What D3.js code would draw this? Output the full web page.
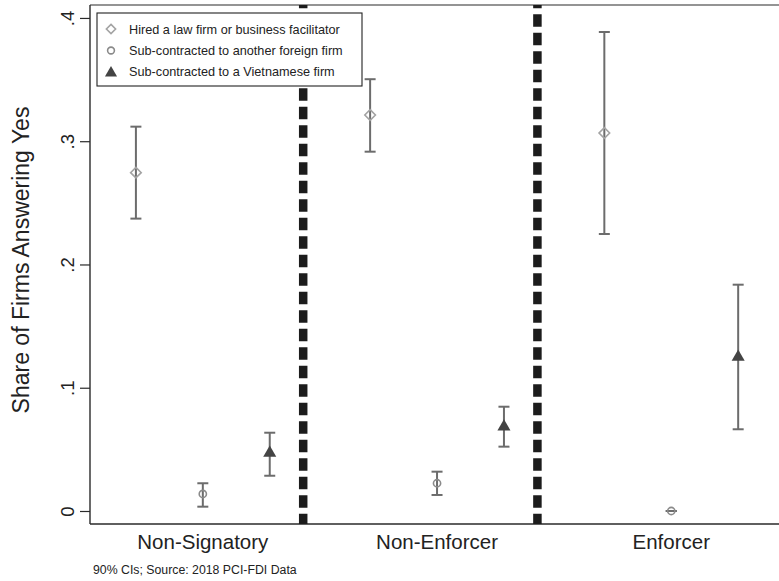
<!DOCTYPE html>
<html><head><meta charset="utf-8">
<script src="https://cdn.jsdelivr.net/npm/d3@7"></script>
<style>body{margin:0;background:#fff}svg{display:block}text{font-family:"Liberation Sans",Arial,sans-serif}</style>
</head><body>
<script>
const groups = ["Non-Signatory","Non-Enforcer","Enforcer"];
const groupPos = [2, 5.5, 9];
const dividers = [3.5, 7];
const seriesNames = ["Hired a law firm or business facilitator","Sub-contracted to another foreign firm","Sub-contracted to a Vietnamese firm"];
const seriesOffsets = [-1, 0, 1];
const lawMean = [0.2745, 0.3213, 0.3067];
const lawLo   = [0.2372, 0.2915, 0.2247];
const lawHi   = [0.3118, 0.3503, 0.3886];
const forMean = [0.0138, 0.0225, 0.0];
const forLo   = [0.0035, 0.0130, 0.0];
const forHi   = [0.0225, 0.0319, 0.0];
const vieMean = [0.0470, 0.0684, 0.1250];
const vieLo   = [0.0286, 0.0522, 0.0663];
const vieHi   = [0.0635, 0.0846, 0.1836];
const yTicks = [0, 0.1, 0.2, 0.3, 0.4];
const yTickLabels = ["0", ".1", ".2", ".3", ".4"];
const yTitle = "Share of Firms Answering Yes";
const note = "90% CIs; Source: 2018 PCI-FDI Data";

const W = 779, H = 581;
const L = 90, R = 781, T = 5, B = 524;
const svg = d3.select("body").append("svg").attr("width", W).attr("height", H);
const x = d3.scaleLinear().domain([0.314, 10.64]).range([L, R]);
const y = d3.scaleLinear().domain([-0.01055, 0.4105]).range([B, T]);

const series = [
  {mean: lawMean, lo: lawLo, hi: lawHi, sym: "diamond"},
  {mean: forMean, lo: forLo, hi: forHi, sym: "circle"},
  {mean: vieMean, lo: vieLo, hi: vieHi, sym: "triangle"}
];

// frame
svg.append("line").attr("x1", L).attr("x2", R).attr("y1", T).attr("y2", T).attr("stroke", "#2a2a2a").attr("stroke-width", 1.2);
svg.append("line").attr("x1", L).attr("x2", R).attr("y1", B).attr("y2", B).attr("stroke", "#2a2a2a").attr("stroke-width", 1.4);
svg.append("line").attr("x1", L).attr("x2", L).attr("y1", T).attr("y2", B).attr("stroke", "#2a2a2a").attr("stroke-width", 1.4);

// y axis ticks
const yAxis = d3.axisLeft(y).tickValues(yTicks).tickSize(10).tickFormat((d,i)=>yTickLabels[i]);
const ya = svg.append("g").attr("transform", `translate(${L},0)`).call(yAxis);
ya.select(".domain").remove();
ya.selectAll(".tick line").attr("stroke", "#2a2a2a").attr("stroke-width", 1.2);
ya.selectAll(".tick text").attr("x", null).attr("dy", null)
  .attr("transform", "translate(-16,0) rotate(-90)")
  .attr("text-anchor", "middle").attr("font-size", 18.5).attr("fill", "#222")
  .style("font-family", '"Liberation Sans",Arial,sans-serif');

// y title
svg.append("text").attr("transform", `translate(29,260) rotate(-90)`)
  .attr("text-anchor", "middle").attr("font-size", 23).attr("fill", "#222").text(yTitle);

// x category labels
svg.selectAll(".xl").data(groups).enter().append("text")
  .attr("x", (d,i)=>x(groupPos[i])).attr("y", 549).attr("text-anchor", "middle")
  .attr("font-size", 20.5).attr("fill", "#222").text(d=>d);

// note
svg.append("text").attr("x", 93).attr("y", 574).attr("font-size", 12.3).attr("fill", "#222").text(note);

// dividers
svg.selectAll(".div").data(dividers).enter().append("line")
  .attr("x1", d=>x(d)).attr("x2", d=>x(d)).attr("y1", T).attr("y2", B)
  .attr("stroke", "#1c1c1c").attr("stroke-width", 8.5)
  .attr("stroke-dasharray", "12.4,6.1").attr("stroke-dashoffset", 9.2);

function diamondPath(r){ return `M0,${-r}L${r},0L0,${r}L${-r},0Z`; }
function trianglePath(h){ const k = h/3; const w = 2*Math.sqrt(3)*k; return `M0,${-2*k}L${w/2},${k}L${-w/2},${k}Z`; }

function drawMarker(g, sym, cx, cy, legend){
  if (sym === "diamond") {
    g.append("path").attr("d", diamondPath(legend?4.6:5.3)).attr("transform", `translate(${cx},${cy})`)
      .attr("fill", "none").attr("stroke", "#a3a3a3").attr("stroke-width", 1.6);
  } else if (sym === "circle") {
    g.append("circle").attr("cx", cx).attr("cy", cy).attr("r", legend?3.4:3.6)
      .attr("fill", "none").attr("stroke", "#8a8a8a").attr("stroke-width", 1.6);
  } else {
    g.append("path").attr("d", trianglePath(legend?10.5:11.3)).attr("transform", `translate(${cx},${cy})`)
      .attr("fill", "#444");
  }
}

// error bars and markers
const capW = 5.5;
series.forEach((s, si) => {
  const g = svg.append("g");
  groups.forEach((grp, gi) => {
    const cx = x(groupPos[gi] + seriesOffsets[si]);
    g.append("line").attr("x1", cx).attr("x2", cx).attr("y1", y(s.lo[gi])).attr("y2", y(s.hi[gi]))
      .attr("stroke", "#6c6c6c").attr("stroke-width", 2);
    [s.lo[gi], s.hi[gi]].forEach(v => {
      g.append("line").attr("x1", cx-capW).attr("x2", cx+capW).attr("y1", y(v)).attr("y2", y(v))
        .attr("stroke", "#6c6c6c").attr("stroke-width", 2);
    });
    drawMarker(g, s.sym, cx, y(s.mean[gi]), false);
  });
});

// legend
const lg = svg.append("g");
lg.append("rect").attr("x", 97).attr("y", 13).attr("width", 265).attr("height", 73)
  .attr("fill", "#fff").attr("stroke", "#222").attr("stroke-width", 1.1);
const lgBase = [33.5, 54.5, 75.5];
const lgMark = [29, 50.5, 73];
seriesNames.forEach((nm, i) => {
  drawMarker(lg, series[i].sym, 111, lgMark[i], true);
  lg.append("text").attr("x", 129).attr("y", lgBase[i]).attr("font-size", 12.7).attr("fill", "#222").text(nm);
});
</script>
</body></html>
